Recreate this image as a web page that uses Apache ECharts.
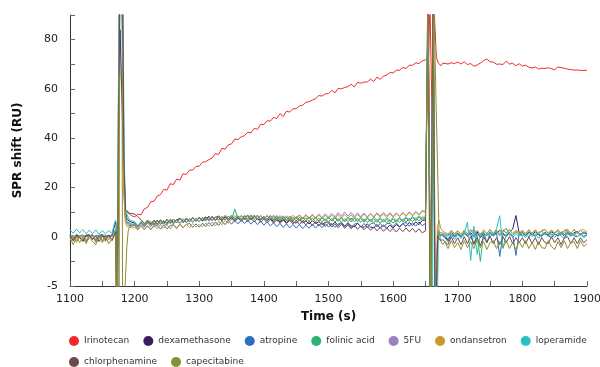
<!DOCTYPE html>
<html>
<head>
<meta charset="utf-8">
<script src="https://cdn.jsdelivr.net/npm/echarts@6/dist/echarts.min.js"></script>
<style>html,body{margin:0;padding:0;background:#fff}#c{width:600px;height:367px}</style>
</head>
<body>
<div id="c"></div>
<script>
// ---- data (SPR shift, RU), sampled every 5 s from 1100 s to 1900 s ----
const sampleStart = 1100, sampleStep = 5;
const names = ['Irinotecan','dexamethasone','atropine','folinic acid','5FU','ondansetron','loperamide','chlorphenamine','capecitabine'];
const colors = ['#ee2a2e','#3b1d5e','#2f6dbd','#2eb377','#9a80c0','#c99a2b','#2cbec3','#6f4848','#8a8f30'];
const xTicks = [1100,1200,1300,1400,1500,1600,1700,1800,1900];
const yTicks = [-5,0,20,40,60,80];

const irinotecan = [
0.2,0.5,-0.1,0.4,0.6,0.1,0.3,-0.2,0.2,0.5,0.0,0.3,0.4,0.1,0.6,0.5,0.5,0.5,9.6,8.6,
8.0,9.1,8.9,11.3,11.9,14.2,14.4,16.5,17.1,19.2,18.9,21.5,21.2,23.4,23.0,25.6,25.3,27.0,27.1,28.6,
28.6,30.2,30.5,31.3,32.0,33.7,33.4,35.9,35.5,37.3,37.7,39.7,39.4,40.6,41.0,42.4,42.2,44.0,43.6,45.6,
45.5,47.1,46.9,48.4,48.0,50.0,48.8,51.0,50.6,51.9,52.0,53.1,53.4,54.6,54.8,55.5,56.0,57.3,57.1,58.0,
58.1,59.4,58.4,60.2,60.0,60.6,60.9,61.9,60.8,62.6,62.3,62.8,62.8,64.0,63.0,64.8,63.9,65.2,65.6,66.6,
66.5,67.6,67.6,68.7,68.3,69.6,69.6,70.6,70.3,71.4,71.8,72,72,72,72,72,70.8,70.1,70.6,70.3,
70.9,70.1,71.0,69.9,70.3,69.2,69.7,70.5,71.5,72.1,71.0,70.9,70.0,70.1,69.9,71.3,70.1,70.4,69.4,70.2,
69.3,69.6,68.8,68.5,68.9,68.1,68.4,68.3,68.6,68.2,67.8,68.9,68.6,68.4,68.0,67.9,67.6,67.7,67.5,67.5,
67.6];
const dexamethasone = [
0.6,-0.2,0.9,0.0,-0.4,0.7,0.1,0.8,-0.5,0.5,0.9,-0.3,0.6,0.2,0,0,0,0,0,5.9,
5.6,4.2,5.9,4.5,6.3,4.8,5.2,6.7,5.0,6.4,5.5,7.0,5.9,6.8,7.5,5.8,7.1,6.2,7.6,6.4,
7.9,6.5,7.2,8.3,6.6,7.8,8.4,6.9,8.0,7.2,8.6,7.1,8.3,7.0,8.1,8.5,6.9,8.2,7.3,6.8,
7.9,6.5,7.6,6.1,7.4,6.0,7.2,5.7,7.0,6.0,5.5,6.9,5.6,6.4,5.2,6.6,5.4,6.1,5.0,5.8,
6.1,4.7,6.0,4.5,5.8,4.3,5.7,4.4,4.0,5.4,4.1,3.8,5.2,3.9,3.6,5.0,3.5,4.8,3.4,4.7,
3.6,5.0,3.9,5.4,4.2,5.8,4.5,6.0,4.9,6.6,6.8,0,0,0,0,0,0.2,-0.3,0.9,0.1,
1.1,0.1,1.5,0.4,1.7,0.0,1.9,-0.1,1.4,0.5,2.0,0.6,1.4,2.6,1.3,0.3,1.8,3.1,8.6,1.6,
1.6,0.4,1.9,0.8,2.1,0.7,0.3,1.8,0.6,2.0,1.0,0.4,2.0,0.8,1.8,0.5,1.6,2.1,0.7,1.7,
1.1];
const atropine = [
0.3,-0.4,0.7,-0.1,0.6,-0.5,0.4,0.8,-0.3,0.3,0.6,-0.4,0.2,0.7,0,0,0,0,0,4.4,
4.5,3.1,4.6,3.0,4.4,2.9,4.3,4.6,3.1,4.8,3.2,4.5,4.9,3.3,5.1,3.6,5.0,5.4,3.8,5.2,
3.9,5.5,4.1,5.8,4.3,6.0,4.6,6.3,4.9,6.5,5.1,6.7,5.2,6.8,5.4,6.6,5.1,6.5,4.9,6.3,
4.7,6.1,4.4,5.6,4.1,5.4,3.8,5.2,3.6,5.0,3.5,4.9,3.3,4.7,3.4,5.0,3.5,5.1,3.7,5.3,
3.9,5.4,3.8,5.2,5.5,4.0,5.3,3.7,5.1,5.6,3.9,5.4,3.8,5.2,5.7,4.0,5.4,3.9,5.3,5.5,
4.1,5.6,4.0,5.4,5.8,4.2,5.7,4.3,6.0,4.5,5.4,0,0,0,0,0,0.8,-0.5,1.2,0.0,
1.1,0.0,1.4,0.2,1.2,-0.8,1.5,0.1,1.8,-0.6,1.3,0.3,1.6,-2.0,1.2,0.1,1.5,0.4,-1.9,1.3,
0.3,1.4,0.1,1.2,0.0,1.3,0.2,1.5,0.4,-0.1,1.2,0.2,1.4,0.1,1.1,1.5,0.3,0.0,1.2,0.2,
0.8];
const folinicAcid = [
0.7,-0.2,0.8,0.0,-0.3,0.6,0.9,-0.2,0.5,0.7,-0.4,0.6,0.0,0.8,0,0,0,0,0,5.1,
5.2,4.2,5.8,4.3,5.5,6.2,4.7,6.4,4.9,6.6,5.1,6.8,5.4,7.1,5.5,7.3,5.8,7.5,6.0,7.6,
6.2,7.8,6.4,8.0,6.5,8.1,6.7,8.3,6.8,8.4,6.9,11.3,7.1,8.5,7.0,8.7,7.2,8.8,7.3,8.6,
7.1,8.5,6.9,8.3,6.6,8.1,6.5,8.0,6.3,7.8,6.4,7.9,6.2,7.7,6.3,7.6,6.1,7.5,6.0,7.4,
6.0,7.5,5.9,7.4,5.8,7.3,6.1,7.6,6.0,7.4,5.8,7.3,5.7,7.2,5.6,7.1,5.5,7.0,5.6,6.9,
5.5,7.0,5.7,7.3,5.9,7.5,6.1,7.7,6.4,8.0,7.8,0,0,0,0,0,1.4,0.2,1.8,0.5,
1.6,0.3,1.9,0.6,2.0,2.8,0.7,-2.5,1.7,0.4,1.9,0.7,2.2,0.3,1.8,3.5,0.8,0.5,2.0,0.9,
1.9,0.7,2.1,0.9,0.5,1.8,2.3,0.8,1.9,0.6,1.7,2.1,0.7,1.8,2.2,0.9,0.6,1.9,0.8,2.0,
1.3];
const fiveFU = [
-0.2,0.6,-0.4,0.5,0.7,-0.3,0.4,0.6,-0.5,0.1,0.5,0.7,-0.3,0.5,0,0,0,0,0,4.8,
4.8,3.8,5.4,3.9,5.6,4.1,5.8,4.3,6.0,5.3,4.8,6.5,5.1,6.8,5.3,7.0,5.6,7.3,5.8,7.4,
6.1,7.7,6.3,7.9,6.5,8.1,6.6,8.2,6.8,8.4,7.0,8.6,7.1,8.7,7.3,8.9,7.4,8.8,7.2,8.6,
7.1,8.7,7.3,8.8,7.2,8.6,7.0,8.5,7.1,8.7,7.3,8.9,7.4,9.0,7.5,9.1,7.6,9.2,7.8,9.3,
7.9,9.5,8.1,9.8,8.3,10.0,8.4,9.8,8.2,9.7,8.1,9.6,8.0,9.5,8.1,9.7,8.3,9.9,8.4,9.8,
8.2,9.7,8.3,9.9,8.5,10.1,8.7,10.3,9.0,10.6,10.3,0,0,0,0,0,2.0,0.7,2.4,1.0,
2.3,0.9,2.5,1.2,2.7,1.1,2.4,0.8,2.6,1.3,2.8,1.4,2.5,1.0,2.7,1.5,2.9,1.2,2.6,1.4,
2.5,1.1,2.7,1.4,2.8,1.2,2.4,2.9,1.3,2.6,1.5,2.8,1.2,2.5,2.7,1.4,2.9,1.5,2.6,1.3,
2.0];
const ondansetron = [
-0.4,0.3,-0.6,0.2,0.4,-0.5,-0.2,0.3,-0.6,-0.1,0.2,-0.5,0.3,-0.3,0,0,0,0,0,3.6,
3.7,2.7,4.3,2.8,4.5,3.0,4.7,3.2,4.9,3.4,5.0,3.1,4.8,3.5,5.2,3.6,5.1,3.7,5.4,3.9,
5.0,4.0,5.6,4.2,5.9,4.4,6.3,4.8,6.7,5.4,7.3,5.9,7.8,6.4,8.1,6.7,8.4,7.0,8.6,7.3,
8.2,7.2,8.7,7.1,8.6,7.0,8.5,6.9,8.4,7.3,8.0,8.6,7.1,8.7,7.2,8.8,7.3,8.9,7.4,8.7,
7.3,8.8,7.4,9.0,7.5,9.1,7.6,8.9,7.4,9.0,7.7,9.2,7.8,9.3,7.9,9.4,8.0,9.2,7.8,9.3,
7.9,9.4,8.1,9.6,8.3,9.8,8.5,10.0,8.8,10.3,10.0,0,0,0,0,0,2.9,1.1,2.6,1.2,
2.5,1.0,2.7,1.2,2.9,1.1,2.6,0.9,2.8,1.3,3.0,1.2,2.7,1.0,2.9,1.4,2.8,1.1,2.6,1.3,
2.7,1.2,2.9,1.4,2.8,1.1,2.6,3.0,1.3,2.7,1.5,2.9,1.2,2.7,3.0,1.4,2.8,1.3,2.6,2.9,
1.9];
const loperamide = [
2.9,1.4,3.1,1.6,2.9,1.2,2.7,1.3,2.8,1.1,2.5,1.2,2.6,1.4,2.2,0,0,0,0,6.3,
6.1,4.5,6.2,4.7,6.4,4.9,6.6,5.1,6.8,5.3,6.9,5.5,7.1,5.6,7.3,5.8,7.4,6.0,7.6,6.2,
7.7,6.3,7.9,6.5,8.1,6.6,8.2,6.8,8.4,6.9,8.3,6.7,8.2,6.8,8.4,7.0,8.5,7.1,8.4,6.9,
8.2,6.7,8.1,6.5,8.0,6.4,7.9,6.3,7.8,6.4,8.0,6.5,7.9,6.3,7.8,6.5,8.0,6.4,7.9,6.6,
8.0,6.5,8.1,6.6,7.9,6.4,8.0,6.7,8.2,6.6,8.0,6.4,7.9,6.5,8.1,6.6,7.8,6.3,7.7,6.4,
7.8,6.3,7.9,6.5,8.1,6.7,8.3,6.9,8.5,7.2,8.2,0,0,0,0,0,1.3,-0.2,1.1,-0.3,
1.0,-0.2,1.2,6.0,-2.4,4.2,-1.8,1.3,-0.1,1.4,0.0,1.2,3.2,8.5,-1.2,1.0,1.5,-0.1,1.3,0.1,
1.2,-0.1,1.4,0.1,1.3,-0.2,1.1,1.5,0.0,1.2,-0.1,1.4,0.2,-0.2,1.3,0.1,1.5,0.0,1.1,-0.1,
0.6];
const chlorphenamine = [
0.4,-0.4,0.6,-0.1,-0.5,0.5,0.7,-0.3,0.4,-0.5,0.5,-0.1,0.6,-0.4,0,0,0,0,0,9.5,
9.2,8.1,6.9,5.3,6.8,5.2,6.7,5.1,6.9,5.4,7.1,5.5,7.2,5.7,7.4,5.9,7.5,6.1,7.7,6.3,
7.8,6.4,8.0,6.5,8.1,6.6,7.9,6.4,8.0,6.5,7.8,6.3,7.7,6.2,7.6,6.1,7.5,6.0,7.4,5.9,
7.2,5.7,7.1,5.5,6.9,5.4,6.8,5.3,6.7,5.2,6.6,5.0,6.4,4.8,6.2,4.6,6.0,4.4,5.8,4.2,
5.5,3.9,5.3,3.6,5.1,3.4,4.8,3.2,4.6,3.0,4.4,2.8,4.2,2.6,4.0,2.4,3.8,2.2,3.6,2.1,
3.4,1.9,3.5,2.1,3.6,2.0,3.4,1.8,3.2,1.6,2.4,0,0,0,0,0,-0.1,-0.8,0.0,-0.7,
-0.1,-0.8,0.0,-0.7,0.1,-0.7,-0.1,-0.9,0.0,-0.6,0.2,-0.7,-0.1,-0.8,0.0,-0.6,0.1,-0.7,-0.1,-0.6,
-0.1,-0.7,0.0,-0.7,-0.1,-0.8,-0.1,-0.6,-0.7,0.0,-0.6,-0.1,-0.8,-0.1,0.0,-0.7,-0.1,-0.7,-0.1,-0.6,
-0.3];
const capecitabine = [
-0.1,-0.8,0.2,-0.6,0.0,-0.7,0.3,-0.5,-0.8,0.0,-0.6,0.1,-0.7,-0.2,0,0,0,0,0,4.2,
5.1,4.1,5.7,4.3,6.0,4.6,6.3,4.9,6.5,5.1,6.8,5.4,7.1,5.6,7.3,5.9,7.6,6.2,7.8,6.4,
7.6,7.2,8.2,6.8,8.4,6.9,8.5,7.1,8.7,7.2,8.8,7.3,8.6,7.1,8.7,7.2,8.9,7.4,8.8,7.3,
8.1,7.1,8.6,7.0,8.5,6.8,8.3,6.7,8.2,6.6,8.1,6.5,8.0,6.4,7.9,6.5,7.8,6.3,7.7,6.4,
7.8,6.3,7.7,6.2,7.6,6.1,7.5,6.0,7.6,6.1,7.4,5.9,7.5,6.0,7.3,5.8,7.4,5.9,7.2,5.7,
7.3,5.8,7.4,6.0,7.6,6.2,7.8,6.4,8.1,6.6,7.9,0,0,0,0,0,-0.5,-1.2,-0.4,-1.1,
-0.6,-1.3,-0.4,-1.1,-0.5,-1.2,-0.3,-1.1,-0.5,-1.3,-0.6,-0.4,-1.2,-0.5,-1.1,-0.4,-1.2,-0.6,-1.3,-0.5,
-1.1,-0.4,-1.2,-0.6,-1.3,-0.5,-1.1,-1.2,-0.4,-1.0,-1.3,-0.5,-1.1,-0.4,-1.2,-0.6,-0.5,-1.2,-0.4,-1.0,
-0.7];

// injection artefacts, [time, value] read at finer resolution (values beyond the axis are clipped)
const injectionA = [
[[1168,0.4],[1171,1.5],[1172.5,-10],[1175.5,-10],[1177,95],[1181.5,95],[1183.5,25],[1186,11],[1189,9.8],[1192,9.2]],
[[1168,0.3],[1170.5,6.2],[1171.5,4],[1172.5,-10],[1175,-10],[1177.5,84],[1180,84],[1182,40],[1184.5,12],[1188,7.5],[1191,6.4]],
[[1168,0.2],[1171,2.5],[1172,-10],[1175.5,-10],[1176.5,95],[1180.5,95],[1182.5,30],[1185,9],[1188,5.5],[1191,4.6]],
[[1168,0.3],[1171,3],[1172.5,-10],[1175,-10],[1176,95],[1181,95],[1183,35],[1185.5,10],[1188,6.2],[1191,5.4]],
[[1168,0.1],[1171,2],[1172,-10],[1174.5,-10],[1176,95],[1180.5,95],[1182.5,28],[1185,8.5],[1188,5.6],[1191,4.9]],
[[1168,-0.1],[1171,1.5],[1172.5,-10],[1176,-10],[1177,95],[1181,95],[1183,20],[1185.5,6],[1188,4.2],[1191,3.8]],
[[1168,2.1],[1170,6.6],[1171.5,5.5],[1172.5,-10],[1175,-10],[1176,95],[1182,95],[1184,30],[1186,11],[1189,8.5],[1192,6.8]],
[[1168,0.1],[1171,2],[1172.5,-10],[1175.5,-10],[1177,95],[1181.5,95],[1183.5,30],[1186,11],[1189,10.2],[1192,9.6]],
[[1168,-0.3],[1171,1],[1172.5,-10],[1175,-10],[1177,66],[1180.5,66],[1181.5,-10],[1184,-10],[1186,-4],[1188,-1],[1190,2.2],[1192,3.9]]
];
const injectionB = [
[[1652,72.3],[1655,73],[1657,95],[1660,95],[1661.5,31],[1663,95],[1665,95],[1667,72.7],[1670,70.5],[1674,69.4],[1677,70.5]],
[[1652,6.4],[1654,95],[1657,95],[1658,-10],[1661,-10],[1662,95],[1664,95],[1665,-10],[1667,-10],[1669,1.8],[1673,0.6],[1677,0.4]],
[[1652,5.4],[1653.5,95],[1656.5,95],[1657.5,-10],[1660.5,-10],[1662,95],[1663.5,95],[1665,-10],[1667.5,-10],[1669.5,1.4],[1673,0.4],[1677,0.7]],
[[1652,7.8],[1654,95],[1657,95],[1658,-10],[1661,-10],[1662.5,95],[1664,95],[1665.5,-10],[1667,-10],[1669,2.0],[1673,1.1],[1677,0.9]],
[[1652,10.3],[1654.5,95],[1657.5,95],[1658.5,-10],[1661,-10],[1662,95],[1664.5,95],[1665.5,-10],[1667,-10],[1669,2.6],[1673,1.7],[1677,1.5]],
[[1652,10.0],[1654,95],[1657,95],[1658.5,-10],[1661.5,-10],[1662.5,95],[1664,95],[1665,-10],[1666.5,-10],[1668.5,4],[1671,6.6],[1674,3.2],[1677,2.2]],
[[1652,8.2],[1653.5,95],[1656,95],[1657.5,-10],[1661,-10],[1662,95],[1663.5,95],[1664.5,-10],[1668,-10],[1670,1.5],[1673,0.5],[1677,0.8]],
[[1652,2.4],[1654,95],[1657,95],[1658,-10],[1660.5,-10],[1662,95],[1664,95],[1665,-10],[1667,-10],[1669,0.4],[1673,-0.4],[1677,-0.3]],
[[1652,7.9],[1654,95],[1657,95],[1658.5,-10],[1661,-10],[1663,95],[1665,95],[1671,2],[1674,-0.5],[1677,-0.8]]
];
const gridValues = [irinotecan, dexamethasone, atropine, folinicAcid, fiveFU, ondansetron, loperamide, chlorphenamine, capecitabine];

// y axis is drawn with the negative part stretched 4x (−5 sits where −20 would be)
const NEG_STRETCH = 4;
const toAxis = v => (v < 0 ? v * NEG_STRETCH : v);
const windows = [[1167,1193],[1651,1678]];

function buildSeries(i) {
  const pts = [];
  gridValues[i].forEach((v, k) => {
    const t = sampleStart + k * sampleStep;
    if (windows.some(w => t > w[0] && t < w[1])) return;
    pts.push([t, v]);
  });
  injectionA[i].forEach(p => pts.push(p));
  injectionB[i].forEach(p => pts.push(p));
  pts.sort((a, b) => a[0] - b[0]);
  return pts.map(p => [p[0], toAxis(p[1])]);
}

const FONT = 'DejaVu Sans';
const legendBase = {
  left: 69, padding: 0, orient: 'horizontal',
  icon: 'circle', itemWidth: 10, itemHeight: 10, itemGap: 14,
  textStyle: {fontFamily: FONT, fontSize: 9, color: '#333'}
};
const chart = echarts.init(document.getElementById('c'), null, {renderer: 'canvas'});
chart.setOption({
  animation: false,
  backgroundColor: '#fff',
  color: colors,
  grid: {left: 70, right: 13, top: 15, bottom: 81, containLabel: false, outerBoundsMode: 'none'},
  xAxis: {
    type: 'value', min: 1100, max: 1900, interval: 50,
    name: 'Time (s)', nameLocation: 'middle', nameGap: 25,
    nameTextStyle: {fontFamily: FONT, fontSize: 12, fontWeight: 'bold', color: '#111'},
    axisLine: {onZero: false, lineStyle: {color: '#333', width: 1}},
    axisTick: {inside: true, length: 5, lineStyle: {color: '#666'}},
    axisLabel: {
      margin: 8, fontFamily: FONT, fontSize: 11, color: '#222',
      formatter: v => (xTicks.indexOf(v) >= 0 ? String(v) : '')
    },
    splitLine: {show: false}
  },
  yAxis: {
    type: 'value', min: -20, max: 90, interval: 10,
    name: 'SPR shift (RU)', nameLocation: 'middle', nameGap: 46,
    nameTextStyle: {fontFamily: FONT, fontSize: 12, fontWeight: 'bold', color: '#111'},
    axisLine: {show: true, onZero: false, lineStyle: {color: '#333', width: 1}},
    axisTick: {show: true, inside: true, length: 5, lineStyle: {color: '#666'}},
    axisLabel: {
      margin: 12, fontFamily: FONT, fontSize: 11, color: '#222',
      formatter: v => {
        const real = v < 0 ? v / NEG_STRETCH : v;
        return yTicks.indexOf(real) >= 0 ? String(real) : '';
      }
    },
    splitLine: {show: false}
  },
  legend: [
    Object.assign({}, legendBase, {top: 336, data: names.slice(0, 7)}),
    Object.assign({}, legendBase, {top: 357, data: names.slice(7)})
  ],
  series: names.map((n, i) => ({
    name: n, type: 'line', data: buildSeries(i),
    showSymbol: false, symbol: 'none', clip: true,
    lineStyle: {width: 1, color: colors[i]},
    itemStyle: {color: colors[i]},
    emphasis: {disabled: true}
  }))
});
</script>
</body>
</html>
